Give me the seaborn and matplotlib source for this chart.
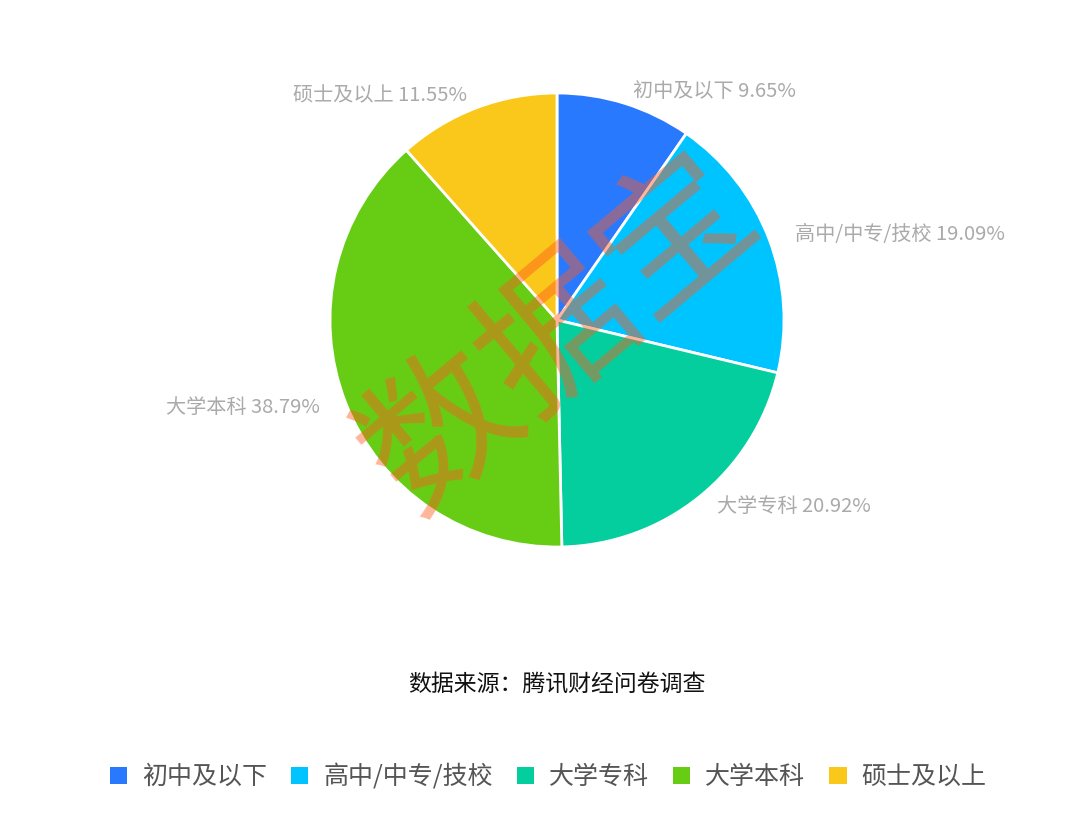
import matplotlib
matplotlib.use('Agg')
import matplotlib.pyplot as plt
import seaborn as sns
from matplotlib.patches import Patch

categories = ['初中及以下', '高中/中专/技校', '大学专科', '大学本科', '硕士及以上']
shares = [9.65, 19.09, 20.92, 38.79, 11.55]
hex_colors = ['#2979FF', '#00C4FF', '#04CE9E', '#67CD14', '#FAC81A']
source_text = '数据来源：腾讯财经问卷调查'
watermark = '数据宝'

sns.set_theme(style='white')
plt.rcParams['font.family'] = ['Noto Sans CJK SC', 'DejaVu Sans']
colors = sns.color_palette(hex_colors)

fig = plt.figure(figsize=(10.8, 8.32), dpi=100)
cx, cy, r = 557, 320, 227
ax = fig.add_axes([(cx - r) / 1080, (832 - cy - r) / 832, 2 * r / 1080, 2 * r / 832])

labels = [f'{c} {v:.2f}%' for c, v in zip(categories, shares)]
wedges, texts = ax.pie(shares, colors=colors, startangle=90, counterclock=False,
                       labels=labels, labeldistance=1.1,
                       wedgeprops=dict(edgecolor='white', linewidth=2),
                       textprops=dict(color='#aaaaaa', fontsize=14.5))
# nudge labels a little to sit like the original
for t in texts:
    x, y = t.get_position()
    t.set_position((x * 1.02, y * 0.96))
ax.set_xlim(-1, 1)
ax.set_ylim(-1, 1)
ax.set_aspect('equal')
ax.axis('off')

fig.text(560 / 1080, 1 - 335 / 832, watermark, rotation=40, ha='center', va='center',
         fontsize=110, color='#FF5A1E', alpha=0.45)

fig.text(557 / 1080, 1 - 684 / 832, source_text, ha='center', va='center',
         fontsize=16.5, color='#111111')

handles = [Patch(facecolor=c, edgecolor='none') for c in colors]
fig.legend(handles, categories, loc='center', bbox_to_anchor=(548 / 1080, 1 - 777 / 832),
           ncol=5, frameon=False, fontsize=18, handlelength=0.7, handleheight=0.7,
           handletextpad=0.6, columnspacing=0.95, labelcolor='#555555')

plt.savefig('out.png', dpi=100)
plt.close()
